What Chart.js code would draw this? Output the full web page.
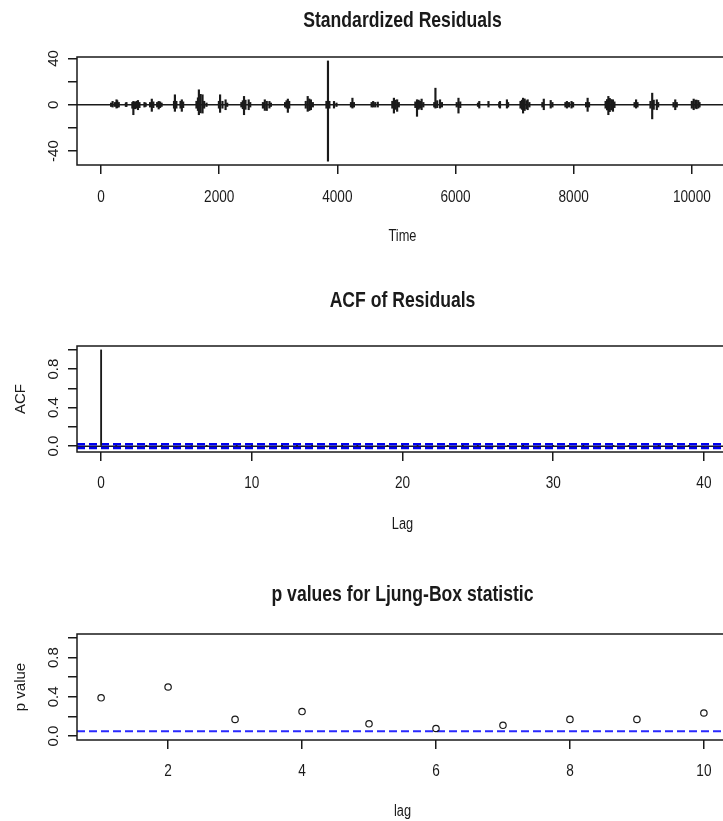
<!DOCTYPE html>
<html>
<head>
<meta charset="utf-8">
<script src="https://cdn.jsdelivr.net/npm/chart.js@4.4.1/dist/chart.umd.min.js"></script>
<style>
  html, body { margin: 0; padding: 0; background: #fff; }
  #wrap { position: relative; width: 723px; height: 821px; overflow: hidden; }
  canvas { position: absolute; left: 0; }
</style>
</head>
<body>
<div id="wrap">
  <canvas id="resid" width="740" height="270" style="top:0px"></canvas>
  <canvas id="acf" width="740" height="270" style="top:270px"></canvas>
  <canvas id="pval" width="740" height="281" style="top:540px"></canvas>
</div>
<script>
const resTime = [170, 196, 235, 262, 274, 300, 420, 430, 530, 547, 575, 605, 625, 650, 735, 755,
  830, 859, 885, 950, 976, 1000, 1025, 1235, 1250, 1275, 1345, 1367, 1390,
  1615, 1640, 1656, 1685, 1718, 1745, 1785, 1995, 2015, 2055, 2108, 2135,
  2375, 2400, 2420, 2445, 2499, 2525, 2740, 2772, 2805, 2850, 2875,
  3115, 3140, 3162, 3185, 3465, 3498, 3525, 3552, 3585, 3815, 3841, 3865, 3943, 3985,
  4230, 4255, 4280, 4580, 4606, 4640, 4684, 4930, 4957, 4985, 5012, 5040,
  5320, 5348, 5375, 5400, 5426, 5455, 5640, 5660, 5690, 5738, 5770, 6020, 6050, 6080,
  6380, 6402, 6558, 6740, 6753, 6870, 6890, 7100, 7125, 7143, 7170, 7200, 7221, 7250,
  7470, 7494, 7611, 7640, 7860, 7885, 7920, 7963, 7990, 8210, 8236, 8260,
  8540, 8565, 8587, 8610, 8635, 8665, 8690, 9030, 9056, 9080, 9300, 9329, 9355, 9407, 9430,
  9690, 9719, 9745, 10000, 10031, 10060, 10080, 10109, 10130];
const resHigh = [1.5, 2.9, 2.0, 4.3, 3.5, 2.0, 1.5, 2.0, 2.0, 2.9, 2.5, 3.0, 3.7, 2.0, 2.0, 1.5,
  2.0, 4.9, 2.5, 2.0, 2.9, 2.5, 1.5, 3.0, 8.6, 3.0, 3.0, 4.3, 2.5,
  3.0, 6.0, 12.9, 9.0, 8.6, 3.0, 1.5, 3.0, 8.6, 3.0, 4.3, 1.5,
  2.0, 3.5, 7.2, 4.0, 4.3, 2.0, 2.0, 4.3, 3.0, 2.9, 1.5,
  2.0, 3.5, 4.9, 3.0, 3.0, 7.2, 5.0, 4.3, 2.0, 3.0, 37.8, 3.0, 2.9, 1.5,
  2.0, 5.7, 2.0, 2.0, 2.9, 2.0, 2.3, 3.0, 5.7, 4.0, 4.3, 2.0,
  2.5, 4.3, 4.0, 3.0, 4.9, 2.0, 2.0, 14.3, 3.5, 4.3, 2.0, 2.0, 5.7, 2.5,
  1.5, 2.9, 2.9, 2.0, 2.9, 4.3, 2.0, 3.0, 4.0, 5.7, 5.0, 3.5, 4.3, 2.0,
  2.0, 4.9, 3.7, 2.0, 2.0, 2.9, 2.0, 2.9, 2.0, 2.0, 5.7, 2.0,
  3.0, 4.5, 7.2, 5.5, 4.5, 4.3, 2.5, 2.0, 4.3, 2.0, 3.0, 10.0, 4.0, 4.3, 2.0,
  2.0, 4.3, 2.0, 3.0, 4.9, 4.0, 4.0, 3.7, 2.0];
const resLow = [-1.5, -2.0, -1.5, -2.9, -2.5, -2.0, -1.5, -1.5, -3.0, -8.6, -3.5, -3.0, -4.3, -2.5, -2.0, -1.5,
  -2.0, -5.7, -2.5, -2.0, -3.7, -2.5, -1.5, -3.0, -5.7, -3.0, -3.0, -5.7, -2.5,
  -3.0, -5.0, -8.6, -7.0, -7.2, -3.0, -1.5, -3.0, -6.6, -3.0, -4.3, -1.5,
  -2.0, -3.5, -8.6, -4.0, -4.3, -2.0, -3.0, -4.9, -5.0, -2.9, -1.5,
  -2.0, -3.0, -6.6, -3.0, -3.0, -5.7, -5.0, -4.3, -2.0, -3.0, -48.7, -3.0, -2.9, -1.5,
  -2.0, -2.9, -2.0, -2.0, -2.0, -2.0, -2.0, -3.0, -7.2, -4.0, -5.7, -2.0,
  -2.5, -10.0, -4.0, -3.0, -4.3, -2.0, -2.0, -2.9, -2.5, -2.9, -2.0, -2.0, -7.2, -2.5,
  -1.5, -2.9, -2.0, -2.0, -2.9, -2.9, -2.0, -3.0, -4.0, -7.2, -5.0, -3.5, -4.3, -2.0,
  -2.0, -4.3, -2.9, -2.0, -2.0, -2.9, -2.0, -2.9, -2.0, -2.0, -5.7, -2.0,
  -3.0, -4.5, -8.6, -6.0, -4.5, -5.7, -2.5, -2.0, -2.9, -2.0, -3.0, -12.2, -4.0, -4.3, -2.0,
  -2.0, -4.3, -2.0, -3.0, -4.3, -3.0, -3.5, -2.9, -2.0];
const timeTicks = [0, 2000, 4000, 6000, 8000, 10000];
const residTicks = [-40, -20, 0, 20, 40];
const residLabels = [-40, 0, 40];

// ACF of residuals
const acfLags = [];
for (let i = 0; i <= 40; i++) acfLags.push(i);
const acfValues = [1, 0.006, -0.004, 0.003, 0.005, -0.003, 0.008, 0.002, -0.002, 0.004, 0.003,
  -0.005, 0.002, 0.001, 0.004, -0.003, 0.002, 0.003, -0.002, 0.005, 0.002,
  0.003, -0.004, 0.002, 0.001, 0.003, -0.002, 0.002, 0.004, -0.003, 0.002,
  0.001, 0.003, -0.006, 0.002, 0.003, -0.002, 0.002, 0.001, 0.002, -0.003];
const acfBound = 0.0196;
const lagTicks = [0, 10, 20, 30, 40];
const unitTicks = [0, 0.2, 0.4, 0.6, 0.8, 1.0];
const unitLabels = [0, 0.4, 0.8];

// Ljung-Box p values
const lbLags = [1, 2, 3, 4, 5, 6, 7, 8, 9, 10];
const lbPvalues = [0.39, 0.50, 0.17, 0.25, 0.125, 0.077, 0.11, 0.17, 0.17, 0.235];
const lbLevel = 0.05;
const lbTicks = [2, 4, 6, 8, 10];

const INK = "#1a1a1a";

function text(ctx, str, x, y, font, sx, rot) {
	ctx.save();
	ctx.translate(x, y);
	if (rot) ctx.rotate(rot);
	ctx.scale(sx, 1);
	ctx.font = font;
	ctx.fillStyle = INK;
	ctx.textAlign = "center";
	ctx.textBaseline = "middle";
	ctx.fillText(str, 0, 0);
	ctx.restore();
}

// draws box, reference lines and all R-style text
function rPanel(opts) {
	return {
		id: "rpanel",
		beforeDatasetsDraw(chart) {
			let ctx = chart.ctx, a = chart.chartArea, y = chart.scales.y;
			ctx.save();
			ctx.beginPath();
			ctx.rect(a.left, a.top, a.right - a.left, a.bottom - a.top);
			ctx.clip();
			(opts.hlines || []).forEach(h => {
				let py = y.getPixelForValue(h.value);
				ctx.beginPath();
				ctx.strokeStyle = h.color;
				ctx.lineWidth = h.width;
				ctx.setLineDash(h.dash || []);
				ctx.moveTo(a.left, py);
				ctx.lineTo(a.right, py);
				ctx.stroke();
			});
			ctx.restore();
		},
		afterDraw(chart) {
			let ctx = chart.ctx, a = chart.chartArea;
			let xs = chart.scales.x, ys = chart.scales.y;
			ctx.save();
			ctx.strokeStyle = INK;
			ctx.lineWidth = 1.5;
			ctx.setLineDash([]);
			ctx.strokeRect(a.left, a.top, a.right - a.left, a.bottom - a.top);
			ctx.restore();

			let cx = (a.left + a.right) / 2;
			text(ctx, opts.title, cx, opts.titleY, "bold 22px 'Liberation Sans', Arial, sans-serif", 0.8);
			text(ctx, opts.xTitle, cx, opts.xTitleY, "16px 'Liberation Sans', Arial, sans-serif", 0.8);
			opts.xTicks.forEach(v => {
				text(ctx, String(v), xs.getPixelForValue(v), opts.xLabelY, "16px 'Liberation Sans', Arial, sans-serif", 0.85);
			});
			opts.yLabels.forEach(v => {
				let s = opts.yFmt ? opts.yFmt(v) : String(v);
				text(ctx, s, 54, ys.getPixelForValue(v), "15px 'Liberation Sans', Arial, sans-serif", 1, -Math.PI / 2);
			});
			if (opts.yTitle)
				text(ctx, opts.yTitle, 21, (a.top + a.bottom) / 2, "15px 'Liberation Sans', Arial, sans-serif", 1, -Math.PI / 2);
		}
	};
}

function axes(xMin, xMax, xTicks, yMin, yMax, yTicks, xHeight) {
	let grid = { drawOnChartArea: false, drawTicks: true, tickLength: 9, color: INK, lineWidth: 1.5, offset: false };
	return {
		x: {
			type: "linear", min: xMin, max: xMax, offset: false,
			grid: grid, border: { display: false },
			ticks: { display: false },
			afterBuildTicks: s => { s.ticks = xTicks.map(v => ({ value: v })); },
			afterFit: s => { s.height = xHeight; }
		},
		y: {
			type: "linear", min: yMin, max: yMax,
			grid: grid, border: { display: false },
			ticks: { display: false },
			afterBuildTicks: s => { s.ticks = yTicks.map(v => ({ value: v })); },
			afterFit: s => { s.width = 77; }
		}
	};
}

const common = {
	responsive: false,
	animation: false,
	devicePixelRatio: 1,
	plugins: { legend: { display: false }, tooltip: { enabled: false } }
};

new Chart(document.getElementById("resid"), {
	type: "bar",
	data: {
		datasets: [{
			data: resTime.map((t, i) => ({ x: t, y: [resLow[i], resHigh[i]] })),
			backgroundColor: INK,
			barThickness: 1.5,
			borderWidth: 0
		}]
	},
	options: Object.assign({}, common, {
		layout: { padding: { top: 57, right: 12, bottom: 0, left: 0 } },
		scales: axes(-407, 10612, timeTicks, -52, 41.2, residTicks, 105)
	}),
	plugins: [rPanel({
		title: "Standardized Residuals", titleY: 21,
		xTitle: "Time", xTitleY: 237,
		xTicks: timeTicks, xLabelY: 198,
		yLabels: residLabels,
		hlines: [{ value: 0, color: INK, width: 1.5 }]
	})]
});

new Chart(document.getElementById("acf"), {
	type: "bar",
	data: {
		datasets: [{
			data: acfLags.map((l, i) => ({ x: l, y: [0, acfValues[i]] })),
			backgroundColor: INK,
			barThickness: 1.2,
			borderWidth: 0
		}]
	},
	options: Object.assign({}, common, {
		layout: { padding: { top: 76, right: 12, bottom: 0, left: 0 } },
		scales: axes(-1.6, 41.6, lagTicks, -0.0607, 1.0408, unitTicks, 88)
	}),
	plugins: [rPanel({
		title: "ACF of Residuals", titleY: 31,
		xTitle: "Lag", xTitleY: 255,
		xTicks: lagTicks, xLabelY: 214,
		yLabels: unitLabels, yFmt: v => v.toFixed(1),
		yTitle: "ACF",
		hlines: [
			{ value: 0, color: INK, width: 1.5 },
			{ value: acfBound, color: "#0000ee", width: 2.5, dash: [8, 4] },
			{ value: -acfBound, color: "#0000ee", width: 2.5, dash: [8, 4] }
		]
	})]
});

new Chart(document.getElementById("pval"), {
	type: "scatter",
	data: {
		datasets: [{
			data: lbLags.map((l, i) => ({ x: l, y: lbPvalues[i] })),
			showLine: false,
			pointStyle: "circle",
			pointRadius: 3.2,
			pointBorderWidth: 1.2,
			pointBorderColor: INK,
			pointBackgroundColor: "rgba(0,0,0,0)"
		}]
	},
	options: Object.assign({}, common, {
		layout: { padding: { top: 94, right: 12, bottom: 0, left: 0 } },
		scales: axes(0.64, 10.36, lbTicks, -0.04, 1.04, unitTicks, 81)
	}),
	plugins: [rPanel({
		title: "p values for Ljung-Box statistic", titleY: 55,
		xTitle: "lag", xTitleY: 272,
		xTicks: lbTicks, xLabelY: 232,
		yLabels: unitLabels, yFmt: v => v.toFixed(1),
		yTitle: "p value",
		hlines: [{ value: lbLevel, color: "#2a2aff", width: 2, dash: [8, 4] }]
	})]
});
</script>
</body>
</html>
